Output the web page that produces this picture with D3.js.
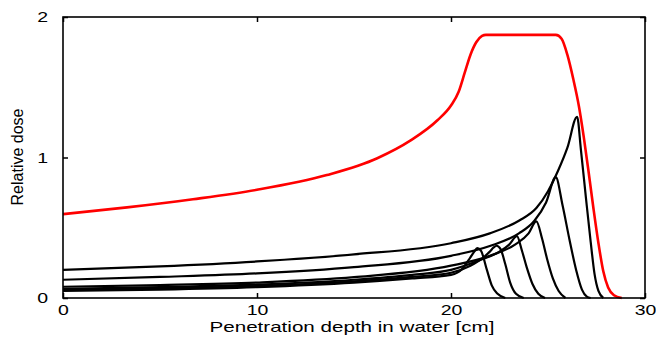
<!DOCTYPE html>
<html>
<head>
<meta charset="utf-8">
<script src="https://cdn.jsdelivr.net/npm/d3@7"></script>
<style>
  body { margin: 0; background: #fff; }
  #chart { width: 656px; height: 345px; }
  text { font-family: "Liberation Sans", Arial, sans-serif; fill: #000; }
</style>
</head>
<body>
<div id="chart"></div>
<script>
const kWidth = 656;
const kHeight = 345;
const kMargin = {left: 63, right: 11, top: 17, bottom: 47};

const xTicks = [0, 10, 20, 30];
const yTicks = [0, 1, 2];
const xLabel = "Penetration depth in water [cm]";
const yLabel = "Relative dose";

// spread-out peak (sum): [depth cm, dose]
const sobp = [[0, 0.597], [3.3, 0.645], [6.7, 0.703], [10, 0.77], [13.6, 0.875], [16.2, 0.995],
  [17.9, 1.12], [19.3, 1.265], [20.0, 1.37], [20.4, 1.47], [20.7, 1.60], [21.0, 1.73],
  [21.3, 1.82], [21.6, 1.865], [21.8, 1.873], [25.4, 1.873], [25.7, 1.845], [26.0, 1.73],
  [26.3, 1.56], [26.6, 1.36], [26.85, 1.14], [27.1, 0.89], [27.35, 0.63], [27.6, 0.39],
  [27.85, 0.19], [28.1, 0.075], [28.4, 0.02], [28.8, 0]];

// pristine peaks, deepest first
const peak1 = [[0, 0.20], [5, 0.225], [10, 0.26], [15, 0.31], [20, 0.39], [22, 0.46],
  [23.5, 0.55], [24.4, 0.64], [25.0, 0.76], [25.5, 0.90], [26.0, 1.07], [26.5, 1.29],
  [26.7, 1.05], [26.95, 0.72], [27.2, 0.40], [27.4, 0.17], [27.6, 0.05], [27.85, 0]];
const peak2 = [[0, 0.13], [5, 0.15], [10, 0.175], [15, 0.22], [20, 0.30], [22, 0.37],
  [23.5, 0.46], [24.3, 0.55], [24.9, 0.68], [25.4, 0.86], [25.75, 0.66], [26.1, 0.42],
  [26.45, 0.20], [26.75, 0.06], [27.0, 0.01], [27.2, 0]];
const peak3 = [[0, 0.08], [5, 0.092], [10, 0.11], [15, 0.148], [20, 0.23], [22, 0.30],
  [23.3, 0.38], [24.0, 0.46], [24.4, 0.545], [24.7, 0.42], [24.95, 0.28], [25.25, 0.14],
  [25.55, 0.05], [25.9, 0]];
const peak4 = [[0, 0.065], [5, 0.077], [10, 0.095], [15, 0.13], [18, 0.165], [20, 0.2],
  [21.5, 0.27], [22.5, 0.33], [23.0, 0.38], [23.4, 0.44], [23.65, 0.34], [23.9, 0.22],
  [24.2, 0.10], [24.5, 0.03], [24.85, 0]];
const peak5 = [[0, 0.057], [5, 0.068], [10, 0.085], [15, 0.118], [18, 0.15], [20, 0.18],
  [21, 0.23], [21.6, 0.28], [22.0, 0.33], [22.2, 0.36], [22.35, 0.372], [22.55, 0.35],
  [22.8, 0.24], [23.05, 0.11], [23.35, 0.03], [23.75, 0]];
const peak6 = [[0, 0.05], [5, 0.06], [10, 0.078], [15, 0.11], [18, 0.14], [20, 0.165],
  [20.6, 0.21], [21.0, 0.29], [21.2, 0.33], [21.35, 0.355], [21.55, 0.335], [21.85, 0.20],
  [22.1, 0.09], [22.4, 0.03], [22.8, 0]];

const peaks = [peak1, peak2, peak3, peak4, peak5, peak6];

function drawChart()
{
  const svg = d3.select("#chart")
    .append("svg")
    .attr("width", kWidth)
    .attr("height", kHeight);

  const x0 = kMargin.left;
  const x1 = kWidth - kMargin.right;
  const y0 = kHeight - kMargin.bottom;
  const y1 = kMargin.top;

  const xScale = d3.scaleLinear().domain([0, 30]).range([x0, x1]);
  const yScale = d3.scaleLinear().domain([0, 2]).range([y0, y1]);

  const line = d3.line()
    .x(d => xScale(d[0]))
    .y(d => yScale(d[1]))
    .curve(d3.curveMonotoneX);

  const plot = svg.append("g");

  peaks.forEach(p => {
    plot.append("path")
      .attr("d", line(p))
      .attr("fill", "none")
      .attr("stroke", "#000")
      .attr("stroke-width", 2.2)
      .attr("stroke-linejoin", "round");
  });

  plot.append("path")
    .attr("d", line(sobp))
    .attr("fill", "none")
    .attr("stroke", "#f00")
    .attr("stroke-width", 2.6)
    .attr("stroke-linejoin", "round");

  // bottom axis, inward ticks
  const xAxis = d3.axisBottom(xScale).tickValues(xTicks).tickSizeInner(-5).tickSizeOuter(0)
    .tickFormat(d3.format("d"));
  const gx = svg.append("g")
    .attr("transform", `translate(0, ${y0})`)
    .call(xAxis);
  gx.select(".domain").remove();
  gx.selectAll("line").attr("stroke-width", 1.5);
  gx.selectAll("text")
    .attr("y", 6)
    .attr("dy", "0.71em")
    .attr("transform", "scale(1.3, 1)")
    .style("font-size", "15px");

  // top mirror ticks
  const gxTop = svg.append("g")
    .attr("transform", `translate(0, ${y1})`)
    .call(d3.axisTop(xScale).tickValues(xTicks).tickSizeInner(-5).tickSizeOuter(0).tickFormat(""));
  gxTop.select(".domain").remove();
  gxTop.selectAll("line").attr("stroke-width", 1.5);

  const yAxis = d3.axisLeft(yScale).tickValues(yTicks).tickSizeInner(-5).tickSizeOuter(0)
    .tickFormat(d3.format("d"));
  const gy = svg.append("g")
    .attr("transform", `translate(${x0}, 0)`)
    .call(yAxis);
  gy.select(".domain").remove();
  gy.selectAll("line").attr("stroke-width", 1.5);
  gy.selectAll("text")
    .attr("x", -15 / 1.3)
    .attr("transform", "scale(1.3, 1)")
    .style("font-size", "15px");

  const gyRight = svg.append("g")
    .attr("transform", `translate(${x1}, 0)`)
    .call(d3.axisRight(yScale).tickValues(yTicks).tickSizeInner(-5).tickSizeOuter(0).tickFormat(""));
  gyRight.select(".domain").remove();
  gyRight.selectAll("line").attr("stroke-width", 1.5);

  // frame
  svg.append("rect")
    .attr("x", x0)
    .attr("y", y1)
    .attr("width", x1 - x0)
    .attr("height", y0 - y1)
    .attr("fill", "none")
    .attr("stroke", "#000")
    .attr("stroke-width", 1.6);

  svg.append("text")
    .attr("x", 352)
    .attr("y", 332)
    .attr("text-anchor", "middle")
    .attr("textLength", 285)
    .attr("lengthAdjust", "spacingAndGlyphs")
    .style("font-size", "15px")
    .text(xLabel);

  svg.append("text")
    .attr("transform", `translate(23, 157) rotate(-90)`)
    .attr("text-anchor", "middle")
    .style("font-size", "16px")
    .text(yLabel);
}

document.addEventListener("DOMContentLoaded", drawChart);
</script>
</body>
</html>
